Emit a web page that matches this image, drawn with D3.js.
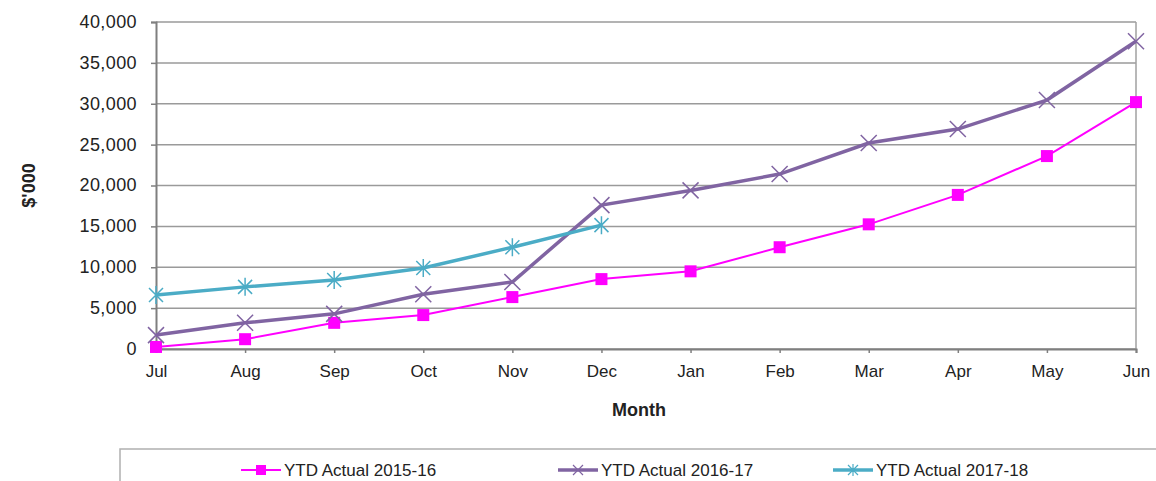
<!DOCTYPE html>
<html>
<head>
<meta charset="utf-8">
<script src="https://cdn.jsdelivr.net/npm/d3@7"></script>
<style>
body { margin: 0; background: #fff; }
svg text { font-family: "Liberation Sans", Arial, sans-serif; }
</style>
</head>
<body>
<div id="chart-area"></div>
<script>
var months = ["Jul", "Aug", "Sep", "Oct", "Nov", "Dec", "Jan", "Feb", "Mar", "Apr", "May", "Jun"];
var yTicks = [0, 5000, 10000, 15000, 20000, 25000, 30000, 35000, 40000];

var ytd1516 = [250, 1200, 3200, 4150, 6350, 8550, 9500, 12450, 15250, 18850, 23600, 30200];
var ytd1617 = [1700, 3200, 4300, 6700, 8200, 17600, 19400, 21400, 25200, 26900, 30450, 37650];
var ytd1718 = [6600, 7600, 8450, 9900, 12450, 15150];

var seriesNames = ["YTD Actual 2015-16", "YTD Actual 2016-17", "YTD Actual 2017-18"];
var seriesColors = ["#ff00ff", "#8064a2", "#4bacc6"];

var margin = {left: 156, right: 20, top: 22, bottom: 132};
var width = 1156 - margin.left - margin.right;
var height = 481 - margin.top - margin.bottom;

var svg = d3.select("#chart-area")
	.append("svg")
	.attr("width", 1156)
	.attr("height", 481);

var g = svg.append("g")
	.attr("transform", "translate(" + margin.left + ", " + margin.top + ")");

var x = d3.scalePoint()
	.domain(months)
	.range([0, width]);

var y = d3.scaleLinear()
	.domain([0, 40000])
	.range([height, 0]);

// gridlines
g.selectAll("line.grid")
	.data(yTicks)
	.enter()
	.append("line")
	.attr("class", "grid")
	.attr("x1", 0)
	.attr("x2", width)
	.attr("y1", (d) => y(d))
	.attr("y2", (d) => y(d))
	.attr("stroke", "#9a9a9a")
	.attr("stroke-width", 1.5);

// right border
g.append("line")
	.attr("x1", width).attr("x2", width)
	.attr("y1", 0).attr("y2", height)
	.attr("stroke", "#a0a0a0")
	.attr("stroke-width", 1.5);

var yAxisGroup = g.append("g")
	.call(d3.axisLeft(y).tickValues(yTicks).tickSize(5).tickPadding(14).tickFormat(d3.format(",")));

var xAxisGroup = g.append("g")
	.attr("transform", "translate(0, " + height + ")")
	.call(d3.axisBottom(x).tickSize(4).tickPadding(12));

[yAxisGroup, xAxisGroup].forEach((ax) => {
	ax.select(".domain").attr("stroke", "#7f7f7f").attr("stroke-width", 2);
	ax.selectAll(".tick line").attr("stroke", "#7f7f7f").attr("stroke-width", 1.5);
	ax.selectAll("text")
		.attr("font-size", "18px")
		.attr("fill", "#222")
		.attr("font-family", "Liberation Sans, Arial, sans-serif");
});
yAxisGroup.selectAll(".tick text").attr("dy", "0.3em").attr("letter-spacing", "0.4px");
xAxisGroup.selectAll(".tick text").attr("font-size", "17px");

g.append("text")
	.attr("x", -(height / 2))
	.attr("y", -121)
	.attr("transform", "rotate(-90)")
	.attr("text-anchor", "middle")
	.attr("font-size", "18px")
	.attr("font-weight", "bold")
	.attr("fill", "#222")
	.text("$'000");

g.append("text")
	.attr("x", width / 2 - 7)
	.attr("y", height + 67)
	.attr("text-anchor", "middle")
	.attr("font-size", "18px")
	.attr("font-weight", "bold")
	.attr("fill", "#222")
	.text("Month");

var line = d3.line()
	.x((d, i) => x(months[i]))
	.y((d) => y(d));

var allSeries = [ytd1516, ytd1617, ytd1718];
var lineWidths = [2, 3.5, 3.5];

function drawMarker(sel, idx, cx, cy, color) {
	if (idx === 0) {
		sel.append("rect")
			.attr("x", cx - 6).attr("y", cy - 6)
			.attr("width", 12).attr("height", 12)
			.attr("fill", color);
	} else if (idx === 1) {
		sel.append("path")
			.attr("d", "M" + (cx - 8) + "," + (cy - 8) + "L" + (cx + 8) + "," + (cy + 8) +
				"M" + (cx - 8) + "," + (cy + 8) + "L" + (cx + 8) + "," + (cy - 8))
			.attr("stroke", color).attr("stroke-width", 1.5).attr("fill", "none");
	} else {
		sel.append("path")
			.attr("d", "M" + (cx - 7) + "," + (cy - 7) + "L" + (cx + 7) + "," + (cy + 7) +
				"M" + (cx - 7) + "," + (cy + 7) + "L" + (cx + 7) + "," + (cy - 7) +
				"M" + cx + "," + (cy - 9) + "L" + cx + "," + (cy + 9))
			.attr("stroke", color).attr("stroke-width", 1.5).attr("fill", "none");
	}
}

allSeries.forEach((data, si) => {
	g.append("path")
		.datum(data)
		.attr("d", line)
		.attr("fill", "none")
		.attr("stroke", seriesColors[si])
		.attr("stroke-width", lineWidths[si]);
	var mg = g.append("g");
	data.forEach((d, i) => {
		drawMarker(mg, si, x(months[i]), y(d), seriesColors[si]);
	});
});

// legend
svg.append("rect")
	.attr("x", 120)
	.attr("y", 449)
	.attr("width", 1100)
	.attr("height", 60)
	.attr("fill", "none")
	.attr("stroke", "#b0b0b0")
	.attr("stroke-width", 1.5);

var legendX = [241, 558, 833];
seriesNames.forEach((name, si) => {
	var lg = svg.append("g")
		.attr("transform", "translate(" + legendX[si] + ", 470)");
	lg.append("line")
		.attr("x1", 0).attr("x2", 40)
		.attr("y1", 0).attr("y2", 0)
		.attr("stroke", seriesColors[si])
		.attr("stroke-width", lineWidths[si]);
	if (si === 0) {
		lg.append("rect").attr("x", 15).attr("y", -5).attr("width", 10).attr("height", 10).attr("fill", seriesColors[si]);
	} else {
		lg.append("path")
			.attr("d", "M15,-5L25,5M15,5L25,-5" + (si === 2 ? "M20,-6L20,6" : ""))
			.attr("stroke", seriesColors[si]).attr("stroke-width", 1.2);
	}
	lg.append("text")
		.attr("x", 43)
		.attr("y", 6)
		.attr("font-size", "17px")
		.attr("fill", "#222")
		.text(name);
});
</script>
</body>
</html>
